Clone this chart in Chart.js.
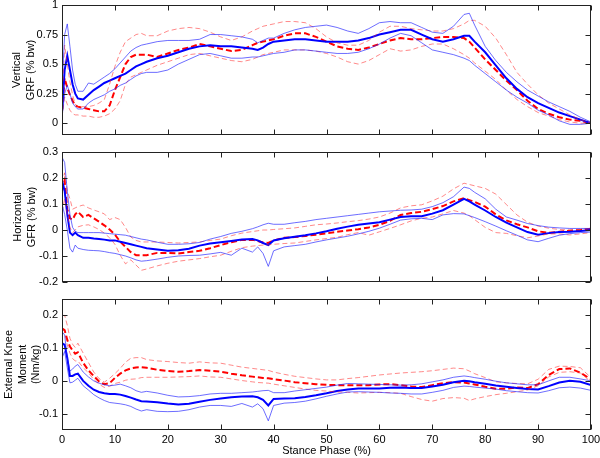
<!DOCTYPE html>
<html>
<head>
<meta charset="utf-8">
<script src="https://cdn.jsdelivr.net/npm/chart.js@4.4.1/dist/chart.umd.min.js"></script>
<style>
html,body{margin:0;padding:0;background:#fff;}
#wrap{position:relative;width:600px;height:458px;overflow:hidden;}
canvas{position:absolute;left:0;}
</style>
</head>
<body>
<div id="wrap">
<canvas id="c1" width="600" height="140" style="top:0px"></canvas>
<canvas id="c2" width="600" height="140" style="top:147px"></canvas>
<canvas id="c3" width="600" height="164" style="top:294px"></canvas>
</div>
<script>
// ---- shared x positions (stance phase %) ----
const X = [0,0.5,1,1.5,2,2.5,3,4,5,6,7,8,9,10,11,12,13,14,15,16,18,20,22,24,26,28,30,32,34,36,37,38,39,40,42,44,46,48,50,52,54,56,58,60,62,64,66,68,70,72,74,76,77,78,80,82,84,86,88,90,92,94,96,98,100];
const xTicks = [0,10,20,30,40,50,60,70,80,90,100];

// ---- Panel 1: Vertical GRF ----
const yTicks1 = [0,0.25,0.5,0.75,1];
const blueMean1 = [0.10,0.45,0.57,0.45,0.33,0.25,0.21,0.20,0.24,0.28,0.31,0.34,0.36,0.38,0.40,0.42,0.45,0.48,0.50,0.52,0.55,0.57,0.60,0.63,0.65,0.66,0.65,0.65,0.64,0.63,0.62,0.64,0.67,0.69,0.70,0.71,0.71,0.70,0.69,0.69,0.69,0.70,0.72,0.75,0.77,0.79,0.79,0.75,0.71,0.69,0.71,0.74,0.74,0.69,0.60,0.49,0.38,0.29,0.22,0.17,0.13,0.09,0.06,0.03,0.00];
const blueUp1 = [0.30,0.75,0.84,0.65,0.45,0.33,0.27,0.27,0.34,0.33,0.36,0.39,0.42,0.46,0.51,0.56,0.61,0.64,0.66,0.67,0.69,0.70,0.70,0.70,0.71,0.75,0.75,0.74,0.73,0.71,0.68,0.70,0.72,0.72,0.76,0.79,0.81,0.82,0.83,0.81,0.78,0.76,0.80,0.85,0.86,0.85,0.85,0.81,0.77,0.76,0.82,0.92,0.93,0.83,0.65,0.53,0.43,0.35,0.28,0.23,0.18,0.14,0.10,0.05,0.01];
const blueLo1 = [0.05,0.25,0.32,0.25,0.17,0.14,0.12,0.12,0.17,0.20,0.22,0.24,0.27,0.29,0.32,0.34,0.37,0.40,0.42,0.43,0.43,0.45,0.50,0.54,0.58,0.59,0.57,0.55,0.55,0.56,0.56,0.57,0.58,0.59,0.60,0.62,0.62,0.61,0.60,0.59,0.59,0.60,0.63,0.67,0.72,0.76,0.74,0.68,0.62,0.60,0.58,0.55,0.53,0.49,0.42,0.35,0.28,0.22,0.17,0.11,0.07,0.02,-0.01,-0.01,0.00];
const redMean1 = [0.10,0.38,0.30,0.24,0.19,0.15,0.14,0.13,0.12,0.11,0.10,0.10,0.15,0.28,0.39,0.50,0.56,0.58,0.58,0.58,0.56,0.59,0.62,0.64,0.67,0.65,0.63,0.61,0.62,0.66,0.68,0.69,0.70,0.71,0.74,0.76,0.76,0.73,0.69,0.65,0.63,0.62,0.64,0.67,0.70,0.72,0.71,0.71,0.72,0.73,0.73,0.72,0.69,0.64,0.54,0.45,0.36,0.28,0.19,0.12,0.08,0.05,0.03,0.02,0.00];
const redUp1 = [0.15,0.66,0.50,0.35,0.24,0.16,0.14,0.14,0.14,0.15,0.17,0.20,0.33,0.48,0.60,0.69,0.72,0.75,0.76,0.74,0.74,0.78,0.80,0.81,0.80,0.77,0.73,0.70,0.73,0.78,0.80,0.82,0.83,0.84,0.86,0.86,0.85,0.80,0.73,0.68,0.66,0.66,0.70,0.77,0.82,0.82,0.80,0.79,0.78,0.78,0.80,0.84,0.87,0.87,0.82,0.72,0.58,0.43,0.33,0.24,0.17,0.12,0.07,0.03,0.00];
const redLo1 = [0.05,0.22,0.16,0.11,0.08,0.07,0.07,0.06,0.06,0.05,0.05,0.06,0.08,0.12,0.19,0.33,0.39,0.41,0.43,0.45,0.49,0.52,0.55,0.58,0.59,0.57,0.55,0.53,0.52,0.54,0.56,0.58,0.59,0.60,0.62,0.62,0.62,0.61,0.59,0.56,0.52,0.50,0.53,0.58,0.63,0.61,0.62,0.65,0.67,0.67,0.63,0.58,0.55,0.51,0.44,0.37,0.28,0.20,0.14,0.09,0.06,0.03,0.01,0.00,0.00];

// ---- Panel 2: Horizontal GFR ----
const yTicks2 = [-0.2,-0.1,0,0.1,0.2,0.3];
const blueMean2 = [0.19,0.15,0.06,-0.01,-0.02,-0.01,-0.02,-0.03,-0.03,-0.033,-0.035,-0.037,-0.04,-0.04,-0.045,-0.05,-0.055,-0.06,-0.065,-0.07,-0.075,-0.08,-0.078,-0.072,-0.06,-0.052,-0.047,-0.042,-0.037,-0.035,-0.04,-0.05,-0.058,-0.04,-0.032,-0.026,-0.02,-0.013,-0.005,0.005,0.013,0.02,0.025,0.03,0.04,0.05,0.053,0.053,0.063,0.076,0.098,0.12,0.11,0.098,0.075,0.05,0.028,0.01,-0.008,-0.018,-0.012,-0.008,-0.007,-0.004,0.0];
const blueUp2 = [0.28,0.26,0.15,0.06,0.01,-0.005,-0.01,-0.01,-0.01,-0.01,-0.01,-0.012,-0.014,-0.016,-0.018,-0.02,-0.025,-0.03,-0.035,-0.038,-0.047,-0.055,-0.055,-0.053,-0.048,-0.035,-0.025,-0.013,-0.005,0.005,0.012,0.02,0.026,0.022,0.022,0.028,0.033,0.04,0.045,0.05,0.055,0.06,0.065,0.07,0.073,0.076,0.077,0.08,0.09,0.105,0.128,0.165,0.16,0.145,0.12,0.08,0.05,0.038,0.025,0.017,0.011,0.008,0.006,0.006,0.006];
const blueLo2 = [0.10,0.06,0.0,-0.07,-0.085,-0.058,-0.07,-0.075,-0.078,-0.079,-0.08,-0.083,-0.087,-0.09,-0.095,-0.10,-0.107,-0.115,-0.12,-0.118,-0.112,-0.105,-0.10,-0.098,-0.097,-0.092,-0.086,-0.097,-0.07,-0.085,-0.065,-0.09,-0.14,-0.08,-0.065,-0.06,-0.055,-0.046,-0.038,-0.031,-0.024,-0.015,-0.005,0.007,0.022,0.038,0.043,0.045,0.04,0.058,0.063,0.062,0.055,0.048,0.032,0.015,-0.003,-0.02,-0.038,-0.045,-0.032,-0.02,-0.014,-0.01,-0.008];
const redMean2 = [0.15,0.19,0.08,0.045,0.04,0.06,0.07,0.05,0.058,0.045,0.032,0.018,0.002,-0.018,-0.045,-0.065,-0.085,-0.097,-0.097,-0.097,-0.088,-0.088,-0.09,-0.085,-0.08,-0.07,-0.058,-0.047,-0.038,-0.038,-0.042,-0.048,-0.05,-0.04,-0.03,-0.027,-0.023,-0.018,-0.013,-0.007,-0.002,0.003,0.01,0.02,0.035,0.058,0.065,0.07,0.08,0.092,0.11,0.122,0.115,0.108,0.09,0.06,0.037,0.022,0.01,-0.005,-0.011,-0.007,-0.003,0.0,0.005];
const redUp2 = [0.18,0.22,0.15,0.12,0.08,0.085,0.09,0.096,0.085,0.077,0.07,0.062,0.04,0.048,0.04,0.01,-0.027,-0.04,-0.046,-0.046,-0.046,-0.048,-0.05,-0.048,-0.046,-0.04,-0.035,-0.022,-0.012,-0.006,-0.003,0.0,0.0,0.002,0.005,0.008,0.014,0.02,0.023,0.027,0.032,0.036,0.042,0.05,0.065,0.085,0.093,0.097,0.112,0.13,0.158,0.18,0.175,0.17,0.16,0.138,0.098,0.058,0.03,0.015,0.007,0.002,0.0,0.003,0.006];
const redLo2 = [0.07,0.12,0.06,0.01,-0.01,0.0,0.012,0.018,0.02,0.012,0.002,-0.012,-0.03,-0.055,-0.097,-0.13,-0.115,-0.135,-0.155,-0.15,-0.138,-0.128,-0.12,-0.115,-0.11,-0.103,-0.097,-0.082,-0.068,-0.062,-0.06,-0.058,-0.057,-0.055,-0.052,-0.05,-0.044,-0.038,-0.033,-0.028,-0.018,-0.01,-0.02,-0.007,0.006,0.02,0.035,0.045,0.05,0.062,0.075,0.065,0.055,0.04,0.01,-0.01,-0.013,-0.022,-0.03,-0.023,-0.015,-0.015,-0.019,-0.015,-0.01];

// ---- Panel 3: External Knee Moment ----
const yTicks3 = [-0.1,0,0.1,0.2];
const blueMean3 = [0.115,0.11,0.07,0.015,0.015,0.02,0.022,0.0,-0.015,-0.027,-0.034,-0.038,-0.04,-0.04,-0.042,-0.046,-0.051,-0.057,-0.062,-0.063,-0.065,-0.069,-0.072,-0.07,-0.064,-0.058,-0.054,-0.05,-0.048,-0.047,-0.05,-0.058,-0.075,-0.055,-0.054,-0.053,-0.049,-0.044,-0.038,-0.031,-0.026,-0.023,-0.023,-0.023,-0.021,-0.02,-0.022,-0.022,-0.017,-0.012,-0.004,0.0,-0.001,-0.004,-0.009,-0.014,-0.018,-0.022,-0.025,-0.026,-0.016,-0.005,0.0,-0.003,-0.013];
const blueUp3 = [0.15,0.14,0.07,0.03,0.036,0.045,0.05,0.027,0.012,0.0,-0.007,-0.012,-0.015,-0.013,-0.01,-0.015,-0.021,-0.03,-0.035,-0.032,-0.037,-0.044,-0.049,-0.048,-0.045,-0.04,-0.038,-0.038,-0.036,-0.034,-0.032,-0.03,-0.029,-0.036,-0.036,-0.031,-0.027,-0.023,-0.019,-0.013,-0.008,-0.009,-0.01,-0.011,-0.012,-0.013,-0.012,-0.009,-0.003,0.003,0.011,0.015,0.013,0.01,0.005,-0.001,-0.006,-0.009,-0.012,-0.012,0.0,0.011,0.011,0.006,0.0];
const blueLo3 = [0.07,0.09,0.04,-0.006,-0.004,0.002,0.008,-0.015,-0.028,-0.042,-0.052,-0.06,-0.066,-0.068,-0.07,-0.073,-0.078,-0.086,-0.092,-0.088,-0.093,-0.094,-0.093,-0.088,-0.08,-0.075,-0.075,-0.078,-0.069,-0.08,-0.07,-0.085,-0.122,-0.075,-0.068,-0.066,-0.062,-0.055,-0.047,-0.04,-0.034,-0.033,-0.034,-0.035,-0.037,-0.038,-0.04,-0.04,-0.035,-0.029,-0.02,-0.016,-0.017,-0.019,-0.022,-0.025,-0.03,-0.033,-0.036,-0.037,-0.03,-0.021,-0.019,-0.022,-0.029];
const redMean3 = [0.16,0.155,0.125,0.105,0.093,0.083,0.087,0.055,0.032,0.015,-0.002,-0.01,-0.007,0.009,0.022,0.032,0.038,0.041,0.042,0.04,0.034,0.03,0.028,0.03,0.033,0.031,0.028,0.022,0.017,0.013,0.011,0.009,0.008,0.005,0.001,-0.004,-0.007,-0.01,-0.012,-0.013,-0.013,-0.013,-0.013,-0.011,-0.01,-0.013,-0.017,-0.019,-0.013,-0.007,-0.004,-0.005,-0.008,-0.011,-0.018,-0.024,-0.024,-0.02,-0.022,-0.01,0.018,0.036,0.038,0.025,0.005];
const redUp3 = [0.2,0.2,0.17,0.13,0.112,0.102,0.115,0.085,0.056,0.027,0.007,-0.004,0.008,0.022,0.038,0.057,0.069,0.071,0.071,0.065,0.061,0.059,0.056,0.054,0.058,0.055,0.054,0.048,0.042,0.038,0.036,0.034,0.032,0.027,0.02,0.014,0.01,0.006,0.003,0.003,0.007,0.01,0.014,0.018,0.021,0.024,0.026,0.028,0.031,0.035,0.039,0.037,0.03,0.022,0.01,-0.003,-0.006,-0.008,-0.009,0.005,0.035,0.045,0.044,0.04,0.01];
const redLo3 = [0.16,0.15,0.11,0.085,0.068,0.061,0.061,0.04,0.025,0.004,-0.01,-0.02,-0.016,-0.008,-0.004,0.002,0.005,0.006,0.01,0.011,0.011,0.011,0.012,0.013,0.015,0.012,0.011,0.006,0.001,-0.003,-0.005,-0.006,-0.007,-0.01,-0.015,-0.02,-0.025,-0.029,-0.031,-0.034,-0.035,-0.037,-0.036,-0.035,-0.036,-0.038,-0.048,-0.057,-0.062,-0.054,-0.051,-0.053,-0.06,-0.055,-0.048,-0.042,-0.038,-0.033,-0.028,-0.015,0.012,0.026,0.028,0.024,-0.003];

// ---- rendering ----
const FONT = "'Liberation Sans', Arial, Helvetica, sans-serif";
Chart.defaults.font.family = FONT;
Chart.defaults.color = '#000';

const boxTicks = {
  id: 'boxTicks',
  afterDatasetsDraw(chart) {
    const {ctx, chartArea: a, scales: {x, y}} = chart;
    ctx.save();
    ctx.strokeStyle = '#222';
    ctx.lineWidth = 1;
    const L = Math.round(a.left) + 0.5, R = Math.round(a.right) - 0.5;
    const T = Math.round(a.top) + 0.5, B = Math.round(a.bottom) - 0.5;
    ctx.strokeRect(L, T, R - L, B - T);
    ctx.beginPath();
    x.ticks.forEach(t => {
      const px = Math.round(x.getPixelForValue(t.value)) + 0.5;
      ctx.moveTo(px, T); ctx.lineTo(px, T + 5);
      ctx.moveTo(px, B); ctx.lineTo(px, B - 5);
    });
    y.ticks.forEach(t => {
      const py = Math.round(y.getPixelForValue(t.value)) + 0.5;
      ctx.moveTo(L, py); ctx.lineTo(L + 5, py);
      ctx.moveTo(R, py); ctx.lineTo(R - 5, py);
    });
    ctx.stroke();
    ctx.restore();
  }
};

function pts(arr) { return X.map((x, i) => ({x: x, y: arr[i]})); }

function sets(bm, bu, bl, rm, ru, rl) {
  const thinBlue = {borderColor: 'rgba(30,30,255,0.65)', borderWidth: 1};
  const thinRed = {borderColor: 'rgba(255,40,40,0.55)', borderWidth: 1, borderDash: [5, 3]};
  return [
    Object.assign({data: pts(bu)}, thinBlue),
    Object.assign({data: pts(bl)}, thinBlue),
    Object.assign({data: pts(ru)}, thinRed),
    Object.assign({data: pts(rl)}, thinRed),
    {data: pts(bm), borderColor: '#0000ff', borderWidth: 2},
    {data: pts(rm), borderColor: '#ff0000', borderWidth: 2, borderDash: [6, 3]}
  ];
}

function makeChart(id, datasets, yMin, yMax, yTicks, yTitle, titlePad, showX) {
  return new Chart(document.getElementById(id), {
    type: 'line',
    data: {datasets: datasets},
    plugins: [boxTicks],
    options: {
      responsive: false,
      animation: false,
      devicePixelRatio: 1,
      layout: {padding: {left: 0, right: 9, top: 5, bottom: showX ? 0 : 5}},
      elements: {point: {radius: 0}, line: {tension: 0, fill: false}},
      plugins: {legend: {display: false}, tooltip: {enabled: false}},
      scales: {
        x: {
          type: 'linear', min: 0, max: 100,
          afterBuildTicks: s => { s.ticks = xTicks.map(v => ({value: v})); },
          afterFit: s => { s.height = showX ? 28 : 0; s.paddingLeft = 0; s.paddingRight = 0; },
          grid: {display: false, drawTicks: false},
          border: {display: false},
          ticks: {display: showX, padding: 3, maxRotation: 0, autoSkip: false, font: {size: 11}, color: '#000'},
          title: {display: showX, text: 'Stance Phase (%)', font: {size: 11}, color: '#000', padding: {top: 0, bottom: 0}}
        },
        y: {
          type: 'linear', min: yMin, max: yMax,
          afterBuildTicks: s => { s.ticks = yTicks.map(v => ({value: v})); },
          afterFit: s => { s.width = 62; s.paddingTop = 0; s.paddingBottom = 0; },
          grid: {display: false, drawTicks: false},
          border: {display: false},
          ticks: {padding: 4, autoSkip: false, font: {size: 11}, color: '#000', callback: v => String(v)},
          title: {display: true, text: yTitle, font: {size: 11, lineHeight: 1.25}, color: '#000', padding: {top: titlePad, bottom: 0}}
        }
      }
    }
  });
}

makeChart('c1', sets(blueMean1, blueUp1, blueLo1, redMean1, redUp1, redLo1), -0.1, 1, yTicks1, ['Vertical', 'GRF (% bw)'], 10, false);
makeChart('c2', sets(blueMean2, blueUp2, blueLo2, redMean2, redUp2, redLo2), -0.2, 0.3, yTicks2, ['Horizontal', 'GFR (% bw)'], 11, false);
makeChart('c3', sets(blueMean3, blueUp3, blueLo3, redMean3, redUp3, redLo3), -0.15, 0.25, yTicks3, ['External Knee', 'Moment', '(Nm/kg)'], 2, true);
</script>
</body>
</html>
